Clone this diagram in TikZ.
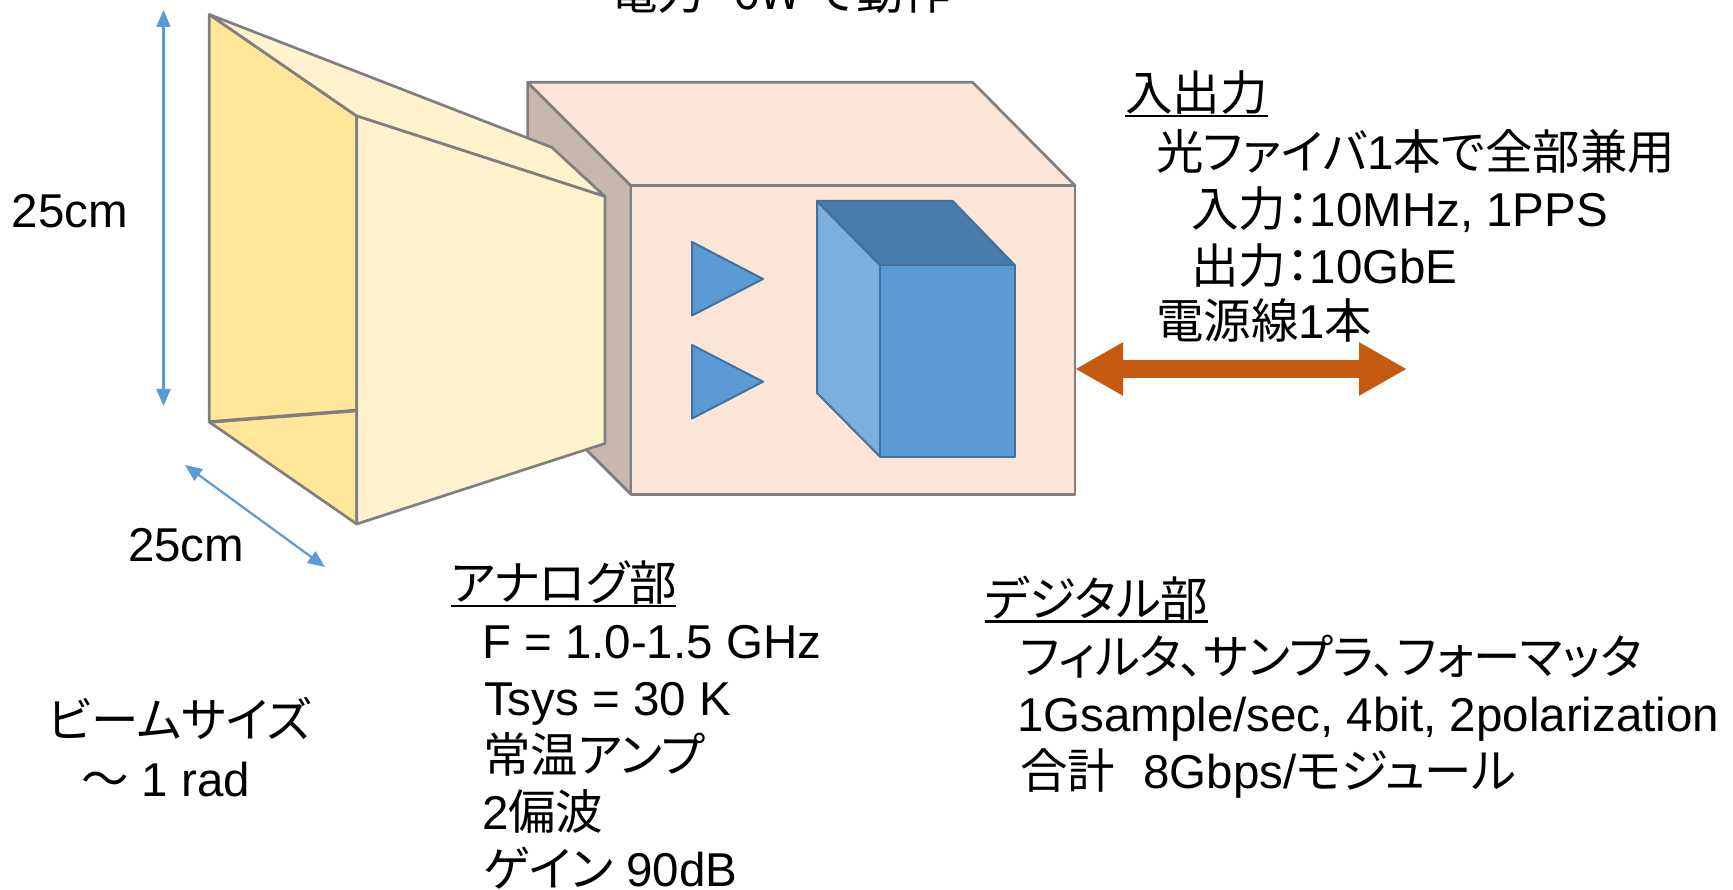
\documentclass[tikz,border=0pt]{standalone}
\usepackage{fontspec}
\setmainfont{Liberation Sans}
\newfontfamily\jp[RawFeature=+palt]{Noto Sans CJK JP}
\usetikzlibrary{arrows.meta}

\definecolor{hornDark}{HTML}{FFE699}
\definecolor{hornLight}{HTML}{FFF2CC}
\definecolor{edgeGray}{HTML}{7F7F7F}
\definecolor{boxFace}{HTML}{FBE5D6}
\definecolor{boxSide}{HTML}{C9B7AB}
\definecolor{blueFace}{HTML}{5B9BD5}
\definecolor{blueEdge}{HTML}{41719C}
\definecolor{blueTop}{HTML}{487CAB}
\definecolor{blueSide}{HTML}{7DAFDD}
\definecolor{ioOrange}{HTML}{C55A11}

\tikzset{
  face/.style={draw=edgeGray, line width=2.7pt, line join=round},
  bluepart/.style={fill=blueFace, draw=blueEdge, line width=2pt, line join=round},
  dimarrow/.style={draw=blueFace, line width=2.2pt,
    {Triangle[length=17pt,width=14pt]}-{Triangle[length=17pt,width=14pt]}},
  ioarrow/.style={draw=ioOrange, line width=18pt,
    {Triangle[length=48pt,width=50pt]}-{Triangle[length=48pt,width=50pt]}},
  txt/.style={anchor=base west, inner sep=0pt, outer sep=0pt,
    font=\fontsize{47.5}{57}\selectfont},
  uline/.style={draw=black, line width=2.5pt},
}

\begin{document}
\begin{tikzpicture}[x=1pt,y=-1pt]
\useasboundingbox (0,0) rectangle (1733,890);
\fill[white] (0,0) rectangle (1733,890);

% ---- electronics box ----
\coordinate (bBTL) at (527.6,82.3);
\coordinate (bBTR) at (972.6,82.3);
\coordinate (bFTL) at (630.9,185.7);
\coordinate (bFTR) at (1075.1,185.7);
\coordinate (bFBL) at (630.9,494.3);
\coordinate (bFBR) at (1075.1,494.3);
\coordinate (bBBL) at (527.6,390.9);
\draw[face, fill=boxSide] (bBTL) -- (bFTL) -- (bFBL) -- (bBBL) -- cycle;
\draw[face, fill=boxFace] (bBTL) -- (bBTR) -- (bFTR) -- (bFTL) -- cycle;
\draw[face, fill=boxFace] (bFTL) rectangle (bFBR);

% ---- horn antenna ----
\coordinate (hA) at (209.3,14.5);
\coordinate (hB) at (209.3,422);
\coordinate (hC) at (356.7,116);
\coordinate (hD) at (356.7,524);
\coordinate (hE) at (356.7,410.5);
\coordinate (hF) at (605,196.5);
\coordinate (hG) at (605,443.5);
\coordinate (hH) at (552,147.5);
\draw[face, fill=hornDark] (hA) -- (hC) -- (hD) -- (hB) -- cycle;
\draw[face, line width=3.5pt] (hB) -- (hE);
\draw[face, fill=hornLight] (hA) -- (hH) -- (hF) -- (hC) -- cycle;
\draw[face, fill=hornLight] (hC) -- (hF) -- (hG) -- (hD) -- cycle;

% ---- amplifiers ----
\draw[bluepart] (692,242) -- (763,279) -- (692,315.5) -- cycle;
\draw[bluepart] (692,345) -- (763,381.7) -- (692,418.5) -- cycle;

% ---- digital unit ----
\draw[bluepart, fill=blueSide] (817,201) -- (880,265) -- (880,456.7) -- (817,393) -- cycle;
\draw[bluepart, fill=blueTop] (817,201) -- (952.7,201) -- (1014.7,265) -- (880,265) -- cycle;
\draw[bluepart] (880,265) rectangle (1014.7,456.7);

% ---- dimension arrows ----
\coordinate (hgtTop) at (163.5,10);
\coordinate (hgtBot) at (163.5,406);
\draw[dimarrow] (hgtTop) -- (hgtBot);
\coordinate (depTop) at (185,465);
\coordinate (depBot) at (325,567);
\draw[dimarrow] (depTop) -- (depBot);

% ---- I/O link ----
\coordinate (ioL) at (1075.1,369);
\coordinate (ioR) at (1407,369);
\draw[ioarrow] (ioL) -- (ioR);

% ---- labels ----
\node[txt] (power) at (610,10) {\jp 電力\hspace{0.6em}6W で動作};
\node[txt] (hgt) at (12,228) {25cm};
\node[txt] (dep) at (128,561) {25cm};
\node[txt] (beam) at (48,737) {\jp ビームサイズ};
\node[txt] (beamv) at (81,796) {{\jp ～} 1 rad};

\node[txt] (ana) at (451,600.5) {\jp アナログ部};
\draw[uline] ([yshift=-5.5pt]ana.base west) -- ([yshift=-5.5pt]ana.base east);
\node[txt] (anaF) at (482,658) {F = 1.0-1.5 GHz};
\node[txt] (anaT) at (484,715) {Tsys = 30 K};
\node[txt] (anaA) at (483,772) {\jp 常温アンプ};
\node[txt] (anaP) at (482,829) {2{\jp 偏波}};
\node[txt] (anaG) at (484,886) {{\jp ゲイン} 90dB};

\node[txt] (dig) at (985,616) {\jp デジタル部};
\draw[uline] ([yshift=-5.5pt]dig.base west) -- ([yshift=-5.5pt]dig.base east);
\node[txt] (digA) at (1020,674) {\jp フィルタ、サンプラ、フォーマッタ};
\node[txt] (digB) at (1017,731) {1Gsample/sec, 4bit, 2polarization};
\node[txt] (digC) at (1020,788) {{\jp 合計}\hspace{0.6em}8Gbps/{\jp モジュール}};

\node[txt] (io) at (1125,110.5) {\jp 入出力};
\draw[uline] ([yshift=-5.5pt]io.base west) -- ([yshift=-5.5pt]io.base east);
\node[txt] (ioA) at (1156,170) {{\jp 光ファイバ}1{\jp 本で全部兼用}};
\node[txt] (ioB) at (1191,227) {{\jp 入力：}10MHz, 1PPS};
\node[txt] (ioC) at (1191,284) {{\jp 出力：}10GbE};
\node[txt] (ioD) at (1156,339) {{\jp 電源線}1{\jp 本}};
\end{tikzpicture}
\end{document}
